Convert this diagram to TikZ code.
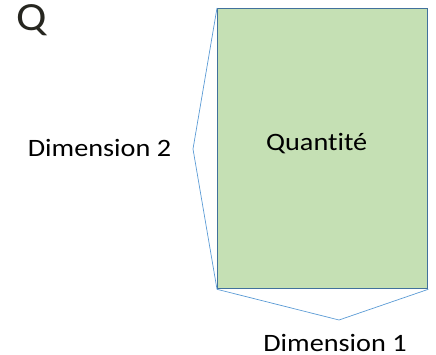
\documentclass[tikz,border=0pt]{standalone}
\usepackage{fontspec}
\setmainfont{Carlito}
\newfontfamily\lblfont[FakeStretch=1.13, Ligatures=NoCommon]{Carlito}
\definecolor{boxfill}{RGB}{197,224,180}
\definecolor{boxline}{RGB}{65,113,156}
\definecolor{braceline}{RGB}{91,155,213}
\definecolor{qcol}{RGB}{38,38,32}
\begin{document}
\begin{tikzpicture}[x=1pt,y=-1pt,
  label/.style={font=\lblfont\fontsize{25}{28}\selectfont, text=black, inner sep=0pt, anchor=base},
  brace/.style={draw=braceline, line width=0.7pt, line join=miter}]
\useasboundingbox (0,0) rectangle (436,355);
\node[draw=boxline, fill=boxfill, line width=1.3pt, minimum width=210pt, minimum height=280pt, inner sep=0pt, anchor=north west] (q) at (217,8) {};
\node[label] (qt) at (316.7,150.7) {Quantité};
\coordinate (a2) at (193,149);
\coordinate (a1) at (339,320);
\draw[brace] (q.north west) -- (a2) -- (q.south west);
\draw[brace] (q.south west) -- (a1) -- (q.south east);
\node[label] (d2) at (99.5,156.7) {Dimension 2};
\node[label] (d1) at (335,351.5) {Dimension 1};
\node[font=\lblfont\fontsize{40}{44}\selectfont, text=qcol, inner sep=0pt, anchor=base] (Q) at (31.7,31) {Q};
\end{tikzpicture}
\end{document}
